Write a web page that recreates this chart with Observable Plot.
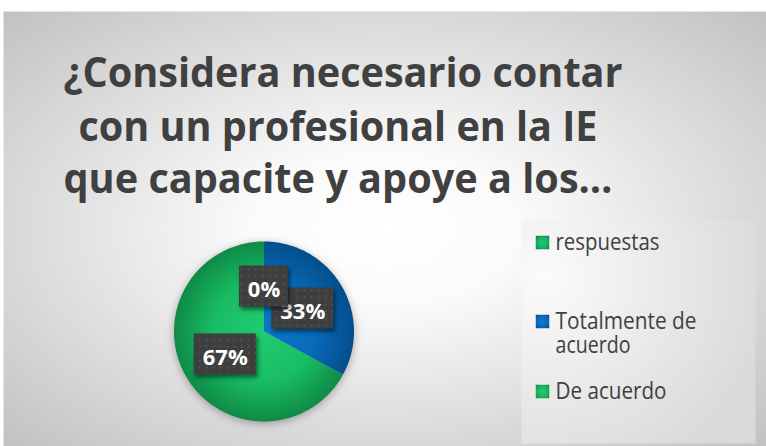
<!DOCTYPE html>
<html><head><meta charset="utf-8">
<script src="https://cdn.jsdelivr.net/npm/d3@7"></script>
<script src="https://cdn.jsdelivr.net/npm/@observablehq/plot@0.6"></script>
<style>
html,body{margin:0;padding:0;background:#fff;}
g[fill="url(#dots)"] rect{filter:drop-shadow(2px 3px 2px rgba(0,0,0,0.5));}
</style></head><body><div id="chart"></div>
<script>
// ---- data ----
const titleLines = ["¿Considera necesario contar", "con un profesional en la IE", "que capacite y apoye a los…"];
const categories = ["respuestas", "Totalmente de acuerdo", "De acuerdo"];
const values = [0, 33, 67];

// ---- layout / style constants ----
const W = 766, H = 446;
const pieCX = 263.5, pieCY = 331, pieR = 90;
const titleX = [63, 78, 63], titleBase = [86, 140, 192], titleLen = [559, 519, 549];
const legendBase = [249, 352, 398], legendSquareY = [242, 321, 391];
const legendLen = [[104], [141, 75], [111]];
const pieFills = ["url(#gTeal)", "url(#gBlue)", "url(#gGreen)"];
const legendFills = ["url(#lTeal)", "url(#lBlue)", "url(#lGreen)"];

const total = d3.sum(values);
const arcs = d3.pie().sort(null).value(d => d.value)(categories.map((c, i) => ({key: c, value: values[i]})));
const polys = [];
for (const a of arcs) {
  if (a.endAngle - a.startAngle <= 0) continue;
  const n = Math.max(2, Math.ceil((a.endAngle - a.startAngle) / (2 * Math.PI) * 240));
  polys.push({key: a.data.key, x: 0, y: 0});
  for (let k = 0; k <= n; k++) {
    const t = a.startAngle + (a.endAngle - a.startAngle) * k / n;
    polys.push({key: a.data.key, x: Math.sin(t), y: Math.cos(t)});
  }
}
const labels = arcs.map(a => {
  const m = (a.startAngle + a.endAngle) / 2;
  return {key: a.data.key, lx: 0.5 * Math.sin(m), ly: 0.5 * Math.cos(m), text: Math.round(a.data.value / total * 100) + "%"};
});

const labelMarks = [];
for (const d of labels.slice().reverse()) {
  const w = 23 + 13 * d.text.length;
  labelMarks.push(Plot.rect([d], {x1: "lx", x2: "lx", y1: "ly", y2: "ly",
    insetLeft: -w / 2, insetRight: -w / 2, insetTop: -20.5, insetBottom: -20.5,
    fill: "url(#dots)", stroke: "none"}));
  labelMarks.push(Plot.text([d], {x: "lx", y: "ly", text: "text", fill: "white",
    fontSize: 22, fontWeight: "bold", fontFamily: "Open Sans", dy: 3.5}));
}

const svg = Plot.plot({
  width: W, height: H, margin: 0,
  style: {background: "transparent", fontFamily: "Open Sans", overflow: "visible"},
  x: {domain: [-1, 1], range: [pieCX - pieR, pieCX + pieR], axis: null},
  y: {domain: [-1, 1], range: [pieCY + pieR, pieCY - pieR], axis: null},
  color: {type: "ordinal", domain: categories, range: pieFills},
  marks: [
    Plot.frame({fill: "url(#bg)", stroke: "none", insetLeft: 3, insetTop: 11}),
    Plot.frame({fill: "url(#legbg)", stroke: "none", insetLeft: 521, insetTop: 220, insetRight: 11, insetBottom: 3}),
    ...titleLines.map((t, i) => Plot.text([t], {frameAnchor: "top-left", dx: titleX[i], dy: titleBase[i],
      lineAnchor: "bottom", text: d => d, fontSize: 41, fontWeight: "bold", fontFamily: "Open Sans",
      fill: "#404040"})),
    ...categories.map((c, i) => Plot.dot([c], {frameAnchor: "top-left", dx: 542, dy: legendSquareY[i],
      symbol: "square", r: 7.6, fill: legendFills[i], stroke: "none"})),
    ...categories.map((c, i) => Plot.text([c], {frameAnchor: "top-left", dx: 555, dy: legendBase[i],
      lineAnchor: "bottom", lineWidth: 7, lineHeight: 1, text: d => d, fontSize: 24,
      fontFamily: "Open Sans", fill: "#404040"})),
    Plot.line(polys, {x: "x", y: "y", z: "key", fill: "key", stroke: "none"}),
    ...labelMarks
  ]
});

const cx = svg.scale("x").apply(0), cy = svg.scale("y").apply(0);
const rr = svg.scale("x").apply(1) - cx;
const defs = `
<radialGradient id="bg" cx="0.5" cy="0.5" r="0.72"><stop offset="0" stop-color="#ffffff"/><stop offset="0.25" stop-color="#fafafa"/><stop offset="1" stop-color="#c0c0c0"/></radialGradient>
<radialGradient id="legbg" cx="0.1" cy="0.25" r="1"><stop offset="0" stop-color="#fbfbfb"/><stop offset="1" stop-color="#d9d9d9"/></radialGradient>
<radialGradient id="gGreen" gradientUnits="userSpaceOnUse" cx="${cx}" cy="${cy}" r="${rr}"><stop offset="0" stop-color="#1fcc70"/><stop offset="0.55" stop-color="#19bd64"/><stop offset="1" stop-color="#0e8b46"/></radialGradient>
<radialGradient id="gBlue" gradientUnits="userSpaceOnUse" cx="${cx}" cy="${cy}" r="${rr}"><stop offset="0" stop-color="#0a78cc"/><stop offset="0.55" stop-color="#086cbb"/><stop offset="1" stop-color="#034e8c"/></radialGradient>
<radialGradient id="gTeal" gradientUnits="userSpaceOnUse" cx="${cx}" cy="${cy}" r="${rr}"><stop offset="0" stop-color="#1fc878"/><stop offset="1" stop-color="#0b7a5a"/></radialGradient>
<radialGradient id="lTeal" cx="0.5" cy="0.5" r="0.7"><stop offset="0" stop-color="#22cc72"/><stop offset="0.6" stop-color="#19ad60"/><stop offset="1" stop-color="#0b6f5e"/></radialGradient>
<radialGradient id="lBlue" cx="0.5" cy="0.5" r="0.7"><stop offset="0" stop-color="#127bd0"/><stop offset="0.6" stop-color="#0b66b6"/><stop offset="1" stop-color="#04427c"/></radialGradient>
<radialGradient id="lGreen" cx="0.5" cy="0.5" r="0.7"><stop offset="0" stop-color="#24cc6e"/><stop offset="0.6" stop-color="#1bb260"/><stop offset="1" stop-color="#0c8442"/></radialGradient>
<pattern id="dots" width="7" height="7" patternUnits="userSpaceOnUse"><rect width="7" height="7" fill="#3e3e3e"/><circle cx="3.5" cy="3.5" r="1" fill="#555555"/></pattern>`;
const root = d3.select(svg);
root.insert("defs", ":first-child").html(defs);
root.selectAll("text").each(function() {
  const i = titleLines.indexOf(this.textContent);
  if (i >= 0) { this.setAttribute("textLength", titleLen[i]); this.setAttribute("lengthAdjust", "spacingAndGlyphs"); }
});
const legLines = ["respuestas", "Totalmente de", "acuerdo", "De acuerdo"];
const legLens = legendLen.flat();
root.selectAll("text, tspan").each(function() {
  if (this.querySelector && this.querySelector("tspan")) return;
  const i = legLines.indexOf(this.textContent);
  if (i >= 0) { this.setAttribute("textLength", legLens[i]); this.setAttribute("lengthAdjust", "spacingAndGlyphs"); }
});
const piePath = svg.querySelector('path[fill="url(#gGreen)"]');
if (piePath) piePath.parentNode.style.filter = "drop-shadow(0px 2px 4px rgba(0,0,0,0.3))";
document.getElementById("chart").appendChild(svg);
</script></body></html>
